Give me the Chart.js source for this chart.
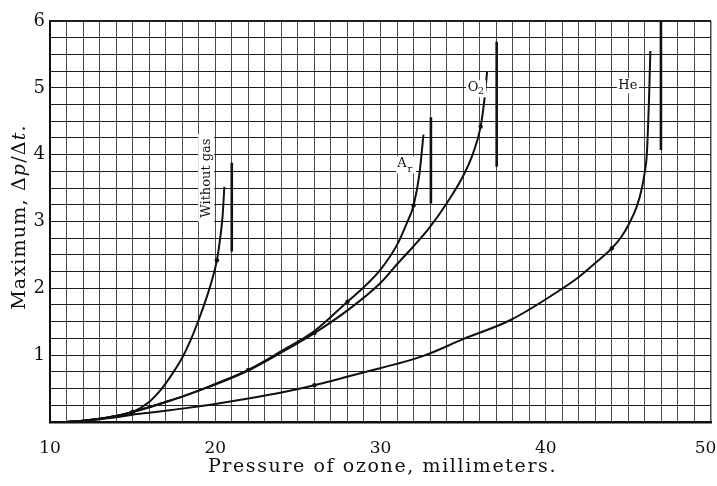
<!DOCTYPE html>
<html>
<head>
<meta charset="utf-8">
<script src="https://cdn.jsdelivr.net/npm/chart.js@4.4.1/dist/chart.umd.min.js"></script>
<style>
  html, body { margin: 0; padding: 0; background: #fff; }
  #wrap { width: 717px; height: 486px; }
</style>
</head>
<body>
<div id="wrap"><canvas id="ozoneChart" width="717" height="486"></canvas></div>
<script>
// Pressure of ozone (mm) vs. maximum dp/dt, four runs
const xTickLabels = [10, 20, 30, 40, 50];
const yTickLabels = [1, 2, 3, 4, 5, 6];

const withoutGasX = [11, 12, 13, 14, 15, 16, 16.7, 17.4, 18, 18.5, 19, 19.5, 19.8, 20.1, 20.3, 20.45, 20.55];
const withoutGasY = [0, 0.02, 0.05, 0.09, 0.15, 0.3, 0.48, 0.72, 0.96, 1.22, 1.53, 1.88, 2.12, 2.42, 2.75, 3.1, 3.52];
const withoutGasDots = [15, 20.1];

const argonX = [11, 12, 13, 14, 15, 16, 17, 18, 19, 20, 22, 24, 26, 28, 29, 30, 31, 31.6, 32, 32.35, 32.6];
const argonY = [0, 0.02, 0.05, 0.09, 0.15, 0.22, 0.3, 0.38, 0.47, 0.57, 0.78, 1.06, 1.36, 1.8, 2.02, 2.28, 2.65, 2.98, 3.24, 3.7, 4.3];
const argonDots = [15, 22, 28, 32];

const oxygenX = [11, 12, 13, 14, 15, 16, 17, 18, 19, 20, 22, 24, 26, 28, 30, 31, 32, 33, 34, 35, 35.6, 36.06, 36.3, 36.45];
const oxygenY = [0, 0.02, 0.05, 0.09, 0.15, 0.22, 0.3, 0.38, 0.47, 0.56, 0.77, 1.04, 1.33, 1.67, 2.08, 2.36, 2.63, 2.92, 3.27, 3.68, 4.02, 4.42, 4.85, 5.24];
const oxygenDots = [26, 36.06];

const heliumX = [11, 12, 13, 14, 15, 16, 17, 18, 20, 22, 24, 26, 28.8, 32.6, 35, 37.9, 40.9, 42, 43, 44, 44.6, 45.05, 45.5, 45.8, 46, 46.12, 46.26, 46.33];
const heliumY = [0, 0.02, 0.04, 0.07, 0.11, 0.14, 0.17, 0.2, 0.27, 0.35, 0.44, 0.55, 0.73, 0.99, 1.24, 1.53, 1.98, 2.17, 2.38, 2.6, 2.78, 2.97, 3.22, 3.48, 3.75, 4.02, 4.92, 5.55];
const heliumDots = [26, 44];

// limiting bars to the right of each curve
const limitX = [21, 33.05, 37.03, 46.97];
const limitLow = [2.55, 3.27, 3.82, 4.07];
const limitHigh = [3.88, 4.56, 5.69, 6.0];

const SERIF = '"DejaVu Serif", "Liberation Serif", serif';

function zip(xs, ys) {
  return xs.map((x, i) => ({ x: x, y: ys[i] }));
}

function curve(xs, ys, dots) {
  return {
    data: zip(xs, ys),
    borderColor: '#111',
    borderWidth: 2,
    backgroundColor: '#111',
    cubicInterpolationMode: 'monotone',
    pointRadius: ctx => (ctx.raw && dots.includes(ctx.raw.x) ? 2.2 : 0),
    pointBorderWidth: 0,
    fill: false
  };
}

const datasets = [
  curve(withoutGasX, withoutGasY, withoutGasDots),
  curve(argonX, argonY, argonDots),
  curve(oxygenX, oxygenY, oxygenDots),
  curve(heliumX, heliumY, heliumDots)
];

limitX.forEach((x, i) => {
  datasets.push({
    data: [{ x: x, y: limitLow[i] }, { x: x, y: limitHigh[i] }],
    borderColor: '#111',
    borderWidth: 2.6,
    pointRadius: 0,
    fill: false
  });
});

// draws a run of text pieces with their own font styles, centred on 0
function drawRuns(c, parts, size, spacing) {
  c.letterSpacing = spacing + 'px';
  let total = 0;
  parts.forEach(p => {
    c.font = p[1] + ' ' + size + 'px ' + SERIF;
    total += c.measureText(p[0]).width;
  });
  let x = -total / 2;
  parts.forEach(p => {
    c.font = p[1] + ' ' + size + 'px ' + SERIF;
    c.fillText(p[0], x, 0);
    x += c.measureText(p[0]).width;
  });
  c.letterSpacing = '0px';
}

// curve labels and both axis titles
const labelsPlugin = {
  id: 'curveLabels',
  afterDatasetsDraw(chart) {
    const c = chart.ctx;
    const sx = chart.scales.x, sy = chart.scales.y;

    function boxed(x, y, w, h) {
      c.fillStyle = '#fff';
      c.fillRect(x - w / 2, y - h / 2, w, h);
    }

    c.save();
    c.fillStyle = '#111';
    c.textBaseline = 'middle';

    // Without gas (rotated)
    let px = sx.getPixelForValue(19.45), py = sy.getPixelForValue(3.65);
    c.save();
    c.translate(px, py);
    c.rotate(-Math.PI / 2);
    boxed(0, 0, 88, 16);
    c.fillStyle = '#111';
    c.font = '13px ' + SERIF;
    c.textAlign = 'center';
    c.fillText('Without gas', 0, 0);
    c.restore();

    // Ar
    px = sx.getPixelForValue(31.3); py = sy.getPixelForValue(3.86);
    boxed(px + 4, py + 1, 20, 17);
    c.fillStyle = '#111';
    c.font = '13px ' + SERIF;
    c.textAlign = 'center';
    c.fillText('A', px, py);
    c.font = '10px ' + SERIF;
    c.fillText('r', px + 8, py + 5);

    // O2
    px = sx.getPixelForValue(35.6); py = sy.getPixelForValue(5.0);
    boxed(px + 3, py + 1, 20, 17);
    c.fillStyle = '#111';
    c.font = '13px ' + SERIF;
    c.fillText('O', px, py);
    c.font = '10px ' + SERIF;
    c.fillText('2', px + 8, py + 4);

    // He
    px = sx.getPixelForValue(44.97); py = sy.getPixelForValue(5.03);
    boxed(px, py, 22, 15);
    c.fillStyle = '#111';
    c.font = '13px ' + SERIF;
    c.fillText('He', px, py);

    c.restore();
  },
  afterDraw(chart) {
    const c = chart.ctx;
    const area = chart.chartArea;
    c.save();
    c.fillStyle = '#111';
    c.textBaseline = 'middle';
    c.textAlign = 'left';

    c.save();
    c.translate(20, 217);
    c.rotate(-Math.PI / 2);
    drawRuns(c, [
      ['Maximum, \u0394', 'normal'],
      ['p', 'italic'],
      ['/\u0394', 'normal'],
      ['t.', 'italic']
    ], 19, 1.2);
    c.restore();

    c.save();
    c.translate((area.left + area.right) / 2 + 2, 467);
    drawRuns(c, [['Pressure of ozone, millimeters.', 'normal']], 19, 1.6);
    c.restore();

    c.restore();
  }
};

new Chart(document.getElementById('ozoneChart'), {
  type: 'line',
  data: { datasets: datasets },
  plugins: [labelsPlugin],
  options: {
    responsive: false,
    animation: false,
    layout: { padding: { top: 21, right: 6, left: 0, bottom: 0 } },
    plugins: {
      legend: { display: false },
      tooltip: { enabled: false }
    },
    scales: {
      x: {
        type: 'linear',
        min: 10,
        max: 50,
        afterFit: scale => {
          scale.height = 64;
          scale.paddingLeft = 0;
          scale.paddingRight = 0;
        },
        border: { color: '#111', width: 2.5 },
        grid: {
          drawTicks: false,
          color: '#4a4a4a',
          lineWidth: ctx => (ctx.tick && ctx.tick.value === 50 ? 1.5 : 1)
        },
        ticks: {
          stepSize: 1,
          autoSkip: false,
          maxRotation: 0,
          padding: 16,
          color: '#111',
          font: { family: SERIF, size: 17 },
          // the last label sits a little left so it stays on the page
          callback: v => {
            if (!xTickLabels.includes(v)) return '';
            return v === 50 ? String(v) + '\u2007' : String(v);
          }
        }
      },
      y: {
        type: 'linear',
        min: 0,
        max: 6,
        afterFit: scale => { scale.width = 50; },
        border: { color: '#111', width: 2 },
        grid: {
          drawTicks: false,
          color: '#1e1e1e',
          lineWidth: ctx => (ctx.tick && ctx.tick.value === 6 ? 2 : 1.1)
        },
        ticks: {
          stepSize: 0.25,
          autoSkip: false,
          padding: 5,
          color: '#111',
          font: { family: SERIF, size: 18 },
          callback: v => (yTickLabels.includes(v) ? String(v) : '')
        }
      }
    }
  }
});
</script>
</body>
</html>
